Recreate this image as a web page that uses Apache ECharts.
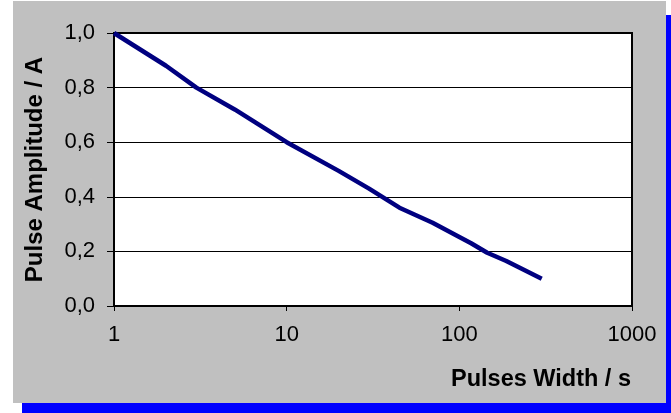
<!DOCTYPE html>
<html>
<head>
<meta charset="utf-8">
<script src="https://cdn.jsdelivr.net/npm/echarts@6/dist/echarts.min.js"></script>
<style>
  html, body { margin: 0; padding: 0; background: #ffffff; }
  #chart { width: 671px; height: 413px; }
</style>
</head>
<body>
<div id="chart"></div>
<script>
// Pulse width (s) against pulse amplitude (A)
var pulseWidth = [1, 2, 3, 5, 10, 20, 30, 45, 70, 100, 117, 145, 187, 300];
var pulseAmplitude = [1.0, 0.88, 0.80, 0.72, 0.60, 0.495, 0.43, 0.36, 0.305, 0.253, 0.23, 0.195, 0.165, 0.10];
var xTitle = 'Pulses Width / s';
var yTitle = 'Pulse Amplitude / A';

var points = pulseWidth.map(function (w, i) { return [w, pulseAmplitude[i]]; });

var chart = echarts.init(document.getElementById('chart'), null, { renderer: 'canvas' });
var font = 'Arial, "Liberation Sans", sans-serif';

chart.setOption({
  backgroundColor: '#ffffff',
  animation: false,
  graphic: [
    { type: 'rect', z: -20, shape: { x: 666, y: 15, width: 5, height: 398 }, style: { fill: '#0000ff' } },
    { type: 'rect', z: -20, shape: { x: 22, y: 403, width: 649, height: 10 }, style: { fill: '#0000ff' } },
    { type: 'rect', z: -19, shape: { x: 13, y: 1, width: 653, height: 402 }, style: { fill: '#c0c0c0' } },
    {
      type: 'text', z: 10, left: 451, top: 368,
      style: { text: xTitle, font: 'bold 23.5px ' + font, fill: '#000000' }
    }
  ],
  grid: {
    left: 114, right: 39, top: 33, bottom: 107,
    show: true, backgroundColor: '#ffffff', borderColor: '#000000', borderWidth: 2
  },
  xAxis: {
    type: 'log', logBase: 10, min: 1, max: 1000,
    axisLine: { show: true, lineStyle: { color: '#000000', width: 1 } },
    axisTick: { show: true, length: 5, lineStyle: { color: '#000000' } },
    minorTick: { show: false },
    splitLine: { show: false },
    axisLabel: {
      color: '#000000', fontSize: 22, fontFamily: font, margin: 18,
      formatter: function (v) { return String(Math.round(v)); }
    }
  },
  yAxis: {
    type: 'value', min: 0, max: 1, interval: 0.2,
    name: yTitle, nameLocation: 'middle', nameGap: 67,
    nameTextStyle: { color: '#000000', fontSize: 24, fontWeight: 'bold', fontFamily: font },
    axisLine: { show: true, lineStyle: { color: '#000000', width: 1 } },
    axisTick: { show: true, length: 7, lineStyle: { color: '#000000' } },
    splitLine: { show: true, lineStyle: { color: '#000000', width: 1 } },
    axisLabel: {
      color: '#000000', fontSize: 22, fontFamily: font, margin: 19,
      formatter: function (v) { return v.toFixed(1).replace('.', ','); }
    }
  },
  series: [{
    type: 'line',
    data: points,
    showSymbol: false,
    smooth: false,
    lineStyle: { color: '#000080', width: 4.5 }
  }]
});
</script>
</body>
</html>
